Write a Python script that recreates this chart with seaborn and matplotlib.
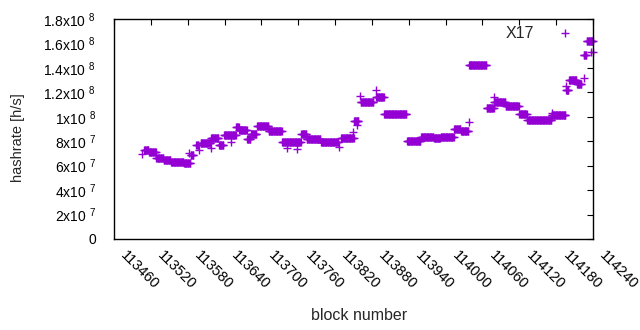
import numpy as np
import pandas as pd
import matplotlib
matplotlib.use("Agg")
import matplotlib.pyplot as plt
import matplotlib.transforms as mtransforms
import seaborn as sns


# runs of consecutive blocks that share one hashrate estimate (start, end exclusive)
run_start = [113509, 113517, 113529, 113541, 113553, 113574, 113585, 113594,
             113601, 113618, 113631, 113639, 113659, 113664, 113677, 113683,
             113693, 113712, 113734, 113765, 113774, 113797, 113830, 113851,
             113862, 113887, 113900, 113937, 113960, 113981, 113992, 114014,
             114025, 114038, 114067, 114079, 114098, 114120, 114133, 114173,
             114196, 114201, 114214, 114225, 114230]
run_end = [113517, 113529, 113541, 113553, 113574, 113585, 113590, 113598,
           113618, 113631, 113639, 113659, 113664, 113677, 113683, 113693,
           113712, 113734, 113765, 113774, 113797, 113826, 113851, 113859,
           113883, 113900, 113937, 113960, 113981, 113992, 114014, 114025,
           114038, 114067, 114079, 114098, 114120, 114133, 114173, 114196,
           114201, 114214, 114222, 114230, 114241]
run_value = [7.28e7, 7.14e7, 6.63e7, 6.46e7, 6.26e7, 6.22e7, 6.87e7, 7.69e7,
             7.85e7, 8.26e7, 7.69e7, 8.51e7, 9.16e7, 8.92e7, 8.18e7, 8.59e7,
             9.25e7, 8.84e7, 7.90e7, 8.59e7, 8.22e7, 7.90e7, 8.26e7, 9.65e7,
             1.12e8, 1.162e8, 1.023e8, 8.02e7, 8.35e7, 8.26e7, 8.35e7, 9.00e7,
             8.84e7, 1.424e8, 1.072e8, 1.12e8, 1.088e8, 1.023e8, 9.74e7, 1.015e8,
             1.22e8, 1.30e8, 1.268e8, 1.505e8, 1.62e8]

# single outlying blocks
pt_block = [113506, 113582, 113598, 113618, 113651, 113742, 113758, 113826,
            113849, 113856, 113861, 113887, 114038, 114079, 114173, 114196,
            114225, 114237, 114240]
pt_value = [6.93e7, 7.04e7, 7.28e7, 7.45e7, 7.94e7, 7.45e7, 7.36e7, 7.53e7,
            8.75e7, 9.33e7, 1.17e8, 1.22e8, 9.57e7, 1.162e8, 1.03e8, 1.25e8,
            1.317e8, 1.53e8, 1.53e8]

xtick_values = list(range(113460, 114241, 60))
ytick_values = [0, 2e7, 4e7, 6e7, 8e7, 1e8, 1.2e8, 1.4e8, 1.6e8, 1.8e8]
ytick_labels = ["0", "2x10 $^{7}$", "4x10 $^{7}$", "6x10 $^{7}$", "8x10 $^{7}$",
                "1x10 $^{8}$", "1.2x10 $^{8}$", "1.4x10 $^{8}$", "1.6x10 $^{8}$",
                "1.8x10 $^{8}$"]


def build_frame():
    blocks = []
    values = []
    for s, e, v in zip(run_start, run_end, run_value):
        blocks.extend(range(s, e))
        values.extend([v] * (e - s))
    blocks.extend(pt_block)
    values.extend(pt_value)
    return pd.DataFrame({"block": blocks, "hashrate": values})


def plot_hashrate(df):
    sns.set_style("white")
    plt.rcParams["font.family"] = ["Liberation Sans", "DejaVu Sans"]
    plt.rcParams["mathtext.fontset"] = "custom"
    plt.rcParams["mathtext.rm"] = "Liberation Sans"
    plt.rcParams["mathtext.default"] = "regular"

    fig = plt.figure(figsize=(6.4, 3.3), dpi=100)
    ax = fig.add_axes([114 / 640, 1 - 239 / 330, 479 / 640, 220 / 330])

    sns.scatterplot(
        data=df,
        x="block",
        y="hashrate",
        marker="+",
        color="#9400d3",
        s=30,
        linewidth=1.0,
        label="X17",
        ax=ax,
        clip_on=False
    )

    ax.set_xlim(113460, 114240)
    ax.set_ylim(0, 1.8e8)

    ax.set_xticks(xtick_values)
    ax.set_xticklabels([str(v) for v in xtick_values], rotation=-45,
                       ha="left", va="top", rotation_mode="anchor",
                       fontsize=10.5)
    ax.set_yticks(ytick_values)
    ax.set_yticklabels(ytick_labels, fontsize=10)

    ax.tick_params(direction="in", length=4, width=0.8, colors="black",
                   top=True, right=True)
    ax.tick_params(axis="x", pad=6, labeltop=False)
    ax.tick_params(axis="y", pad=13, labelright=False)
    for spine in ax.spines.values():
        spine.set_color("black")
        spine.set_linewidth(1)

    # gnuplot puts the rotated label start right at the tick
    shift = mtransforms.ScaledTranslation(14 / 100, -1 / 100, fig.dpi_scale_trans)
    for lab in ax.get_xticklabels():
        lab.set_transform(lab.get_transform() + shift)

    ax.set_xlabel("block number", fontsize=11.5)
    ax.set_ylabel("hashrate [h/s]", fontsize=10.5)
    ax.xaxis.set_label_coords((359 - 114) / 479, (239 - 315) / 220)
    ax.xaxis.label.set_va("center")
    ax.yaxis.set_label_coords((18 - 114) / 479, (239 - 138) / 220)
    ax.yaxis.label.set_va("center")

    ax.legend(loc="center right", bbox_to_anchor=(0.975, 0.936),
              frameon=False, markerfirst=False, borderpad=0,
              borderaxespad=0, handlelength=2, handletextpad=0.95,
              fontsize=11.5)

    fig.savefig("out.png", dpi=100)


if __name__ == "__main__":
    df = build_frame()
    plot_hashrate(df)
